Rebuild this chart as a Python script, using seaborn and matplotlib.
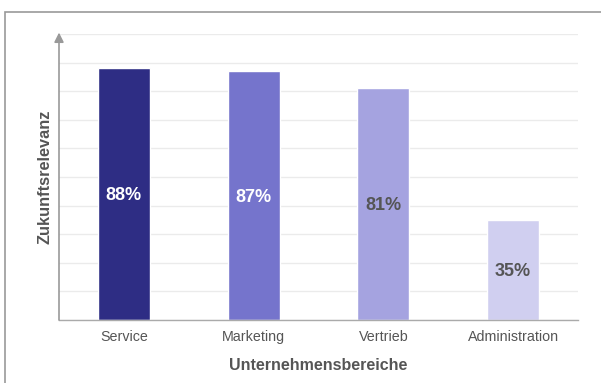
import matplotlib
matplotlib.use("Agg")
import matplotlib.pyplot as plt
import seaborn as sns
import pandas as pd
from matplotlib.patches import Rectangle

categories = ["Service", "Marketing", "Vertrieb", "Administration"]
values = [88, 87, 81, 35]
bar_colors = ["#2e2d84", "#7574cc", "#a5a3e0", "#d0cff0"]
label_colors = ["white", "white", "#555555", "#555555"]
x_label = "Unternehmensbereiche"
y_label = "Zukunftsrelevanz"

sns.set_theme(style="white")
plt.rcParams["font.family"] = ["Liberation Sans", "DejaVu Sans"]

df = pd.DataFrame({"Bereich": categories, "Wert": values})

fig = plt.figure(figsize=(6.01, 3.83), dpi=100)
ax = fig.add_axes([59 / 601, 1 - 320 / 383, (578 - 59) / 601, (320 - 34) / 383])

sns.barplot(data=df, x="Bereich", y="Wert", hue="Bereich", palette=bar_colors,
            width=0.4, legend=False, ax=ax, saturation=1)

ax.set_xlim(-0.5, 3.5)
ax.set_ylim(0, 100)
ax.set_yticks(range(0, 101, 10))
ax.yaxis.grid(True, color="#ebebeb", linewidth=1)
ax.set_axisbelow(True)
ax.tick_params(axis="y", left=False, labelleft=False)
ax.tick_params(axis="x", bottom=False, length=0, labelsize=10.3, labelcolor="#555555", pad=7.5)

for s in ["top", "right", "left"]:
    ax.spines[s].set_visible(False)
ax.spines["bottom"].set_color("#aaaaaa")
ax.spines["bottom"].set_linewidth(1)

# y-axis arrow
ax.annotate("", xy=(-0.5, 100.5), xytext=(-0.5, 0), xycoords="data",
            arrowprops=dict(arrowstyle="-|>", color="#999999", lw=1.2,
                            mutation_scale=14, shrinkA=0, shrinkB=0),
            annotation_clip=False)

for i, (v, c) in enumerate(zip(values, label_colors)):
    ax.text(i, v / 2 - 0.6, f"{v}%", ha="center", va="center", fontsize=13,
            fontweight="bold", color=c)

ax.set_xlabel(x_label, fontsize=11.5, fontweight="bold", color="#555555", labelpad=10)
ax.set_ylabel(y_label, fontsize=11.8, fontweight="bold", color="#555555", labelpad=5)

# frame
fig.patches.append(Rectangle((5 / 601, -0.1), 1.2, 1 - 12 / 383 + 0.1,
                             transform=fig.transFigure, fill=False,
                             edgecolor="#999999", linewidth=1.2, zorder=10))

fig.savefig("out.png", dpi=100)
